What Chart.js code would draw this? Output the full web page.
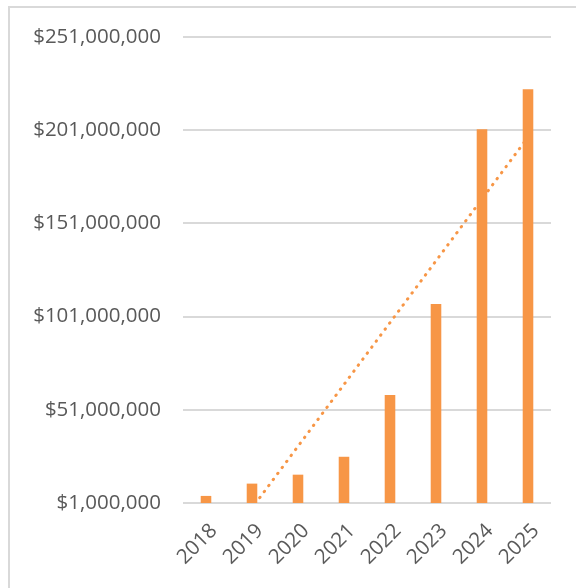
<!DOCTYPE html>
<html>
<head>
<meta charset="utf-8">
<script src="https://cdn.jsdelivr.net/npm/chart.js@4"></script>
<style>
  body { margin: 0; background: #fff; overflow: hidden; }
  #wrap {
    position: absolute; left: 8px; top: 6px;
    width: 566px; height: 580px;
    border-left: 2px solid #d9d9d9; border-top: 2px solid #d9d9d9;
  }
</style>
</head>
<body>
<div id="wrap"><canvas id="chart" width="566" height="580"></canvas></div>
<script>
const years = ["2018", "2019", "2020", "2021", "2022", "2023", "2024", "2025"];
const revenue = [4800000, 11400000, 16200000, 25800000, 58900000, 107800000, 201500000, 223000000];
const yMin = 1000000;
const yMax = 251000000;
const yStep = 50000000;

// linear trendline (least squares over category index)
const n = revenue.length;
const mx = (n - 1) / 2;
const my = revenue.reduce((a, b) => a + b, 0) / n;
let sxy = 0, sxx = 0;
revenue.forEach((v, i) => { sxy += (i - mx) * (v - my); sxx += (i - mx) * (i - mx); });
const slope = sxy / sxx;
const trend = revenue.map((v, i) => my + slope * (i - mx));

const orange = '#F79646';
const tickFont = { family: 'Open Sans', size: 20.5 };

new Chart(document.getElementById('chart'), {
    type: 'bar',
    data: {
        labels: years,
        datasets: [
            {
                type: 'bar',
                data: revenue,
                backgroundColor: orange,
                barPercentage: 0.23,
                categoryPercentage: 1,
                order: 0
            },
            {
                type: 'line',
                data: trend,
                borderColor: orange,
                borderWidth: 3,
                borderDash: [0.5, 7],
                borderCapStyle: 'round',
                pointRadius: 0,
                fill: false,
                order: 1
            }
        ]
    },
    options: {
        responsive: false,
        animation: false,
        layout: { padding: { left: 0, right: 25, top: 29, bottom: 0 } },
        plugins: { legend: { display: false }, tooltip: { enabled: false } },
        scales: {
            x: {
                grid: { display: false },
                border: { display: false },
                ticks: { color: '#595959', font: tickFont, minRotation: 45, maxRotation: 45, padding: 8, labelOffset: 8 },
                afterFit: s => { s.height = 85; s.paddingLeft = 0; s.paddingRight = 0; }
            },
            y: {
                min: yMin,
                max: yMax,
                grid: { color: '#d9d9d9', lineWidth: 2, drawTicks: false },
                border: { display: false },
                ticks: {
                    stepSize: yStep,
                    color: '#595959',
                    font: tickFont,
                    padding: 22,
                    callback: v => '$' + v.toLocaleString('en-US')
                },
                afterFit: s => { s.width = 173; s.paddingTop = 0; s.paddingBottom = 0; }
            }
        }
    }
});
</script>
</body>
</html>
